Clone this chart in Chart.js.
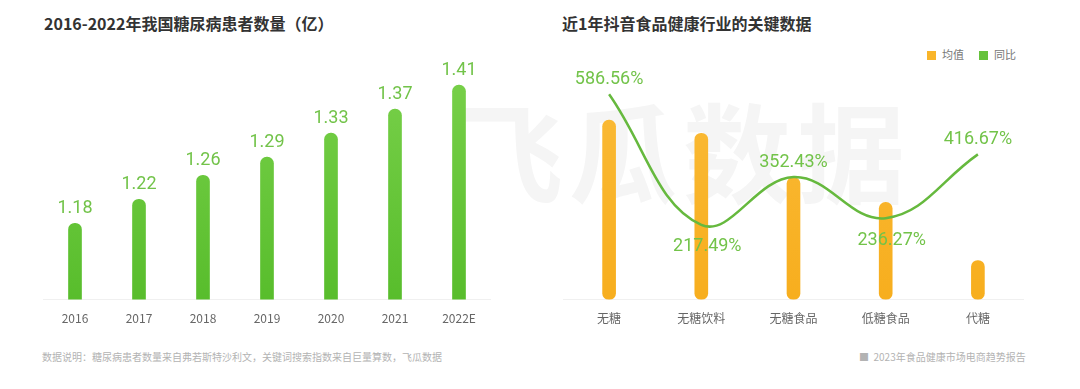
<!DOCTYPE html>
<html>
<head>
<meta charset="utf-8">
<script src="https://cdn.jsdelivr.net/npm/chart.js@4/dist/chart.umd.min.js"></script>
<style>
  body { margin: 0; background: #fff; font-family: 'Noto Sans CJK SC', sans-serif; }
  #wrap { position: relative; width: 1080px; height: 389px; overflow: hidden; }
  .title { position: absolute; top: 11px; font-size: 16px; font-weight: bold; color: #333; }
  .note { position: absolute; top: 349px; font-size: 10px; color: #b3b3b3; }
  .box { position: absolute; top: 40px; height: 298px; }
  .legend { position: absolute; top: 46px; font-size: 11px; color: #777; }
  .legend span.sw { display: inline-block; width: 9px; height: 9px; margin-right: 6px; vertical-align: -1px; }
  .mark { position: absolute; top: 70px; left: 455px; font-size: 108px; font-weight: bold; color: #f5f5f5; letter-spacing: 6px; }
</style>
</head>
<body>
<div id="wrap">
  <div class="mark">飞瓜数据</div>
  <div class="title" style="left:44px">2016-2022年我国糖尿病患者数量（亿）</div>
  <div class="title" style="left:562px">近1年抖音食品健康行业的关键数据</div>
  <div class="legend" style="left:927px"><span class="sw" style="background:#f9b52a"></span>均值</div>
  <div class="legend" style="left:979px"><span class="sw" style="background:#66c23c"></span>同比</div>
  <div class="box" style="left:43px;width:448px"><canvas id="left"></canvas></div>
  <div class="box" style="left:563px;width:461px"><canvas id="right"></canvas></div>
  <div class="note" style="left:42px">数据说明：糖尿病患者数量来自弗若斯特沙利文，关键词搜索指数来自巨量算数，飞瓜数据</div>
  <div class="note" style="left:859px">■&nbsp; 2023年食品健康市场电商趋势报告</div>
</div>
<script>
// 左图：糖尿病患者数量（亿）
const years = ['2016', '2017', '2018', '2019', '2020', '2021', '2022E'];
const patients = [1.18, 1.22, 1.26, 1.29, 1.33, 1.37, 1.41];

// 右图：抖音食品健康行业
const categories = ['无糖', '无糖饮料', '无糖食品', '低糖食品', '代糖'];
const avgValues = [179, 166, 122, 97, 39];   // 均值（图中无数值，按柱高估计）
const yoyValues = [586.56, 217.49, 352.43, 236.27, 416.67]; // 同比 %

const green = '#66c23c';
const labelGreen = '#72c349';
const orange = '#f9b52a';

// 数值标签
const valueLabels = {
  id: 'valueLabels',
  afterDatasetsDraw(chart) {
    const ctx = chart.ctx;
    chart.data.datasets.forEach((ds, i) => {
      if (!ds.showLabels) return;
      const meta = chart.getDatasetMeta(i);
      ctx.save();
      ctx.font = '18px Roboto, "Noto Sans CJK SC", sans-serif';
      ctx.fillStyle = labelGreen;
      ctx.textAlign = 'center';
      meta.data.forEach((el, j) => {
        const text = ds.fmt(ds.data[j]);
        const below = ds.below && ds.below[j];
        if (below) {
          ctx.textBaseline = 'top';
          ctx.fillText(text, el.x + 6, el.y + 13);
        } else {
          ctx.textBaseline = 'bottom';
          ctx.fillText(text, el.x, el.y - 6);
        }
      });
      ctx.restore();
    });
  }
};

function vGradient(ctx, area, top, bottom) {
  const g = ctx.createLinearGradient(0, area.top, 0, area.bottom);
  g.addColorStop(0, top);
  g.addColorStop(1, bottom);
  return g;
}

const xAxis = {
  grid: { display: false, drawTicks: false },
  border: { color: '#f0f0f0' },
  ticks: { color: '#666', padding: 12, font: { size: 12, family: '"Noto Sans CJK SC", sans-serif' } }
};

new Chart(document.getElementById('left'), {
  type: 'bar',
  data: {
    labels: years,
    datasets: [{
      data: patients,
      backgroundColor: (c) => c.chart.chartArea ? vGradient(c.chart.ctx, c.chart.chartArea, '#7dd34e', '#58bd2c') : green,
      barThickness: 13,
      borderRadius: 7,
      borderSkipped: false,
      showLabels: true,
      fmt: (v) => v.toFixed(2)
    }]
  },
  options: {
    responsive: true,
    maintainAspectRatio: false,
    animation: false,
    layout: { padding: 0 },
    scales: {
      x: xAxis,
      y: { display: false, min: 1.053, max: 1.485 }
    },
    plugins: { legend: { display: false }, tooltip: { enabled: false } }
  },
  plugins: [valueLabels]
});

new Chart(document.getElementById('right'), {
  data: {
    labels: categories,
    datasets: [{
      type: 'line',
      label: '同比',
      data: yoyValues,
      yAxisID: 'y2',
      borderColor: '#66b93e',
      borderWidth: 2.5,
      pointRadius: 0,
      tension: 0.4,
      order: 0,
      showLabels: true,
      below: [false, true, false, true, false],
      fmt: (v) => v.toFixed(2) + '%'
    }, {
      type: 'bar',
      label: '均值',
      data: avgValues,
      yAxisID: 'y',
      backgroundColor: (c) => c.chart.chartArea ? vGradient(c.chart.ctx, c.chart.chartArea, '#fbbd3c', '#f7ae1e') : orange,
      barThickness: 13,
      borderRadius: 7,
      borderSkipped: false,
      order: 1
    }]
  },
  options: {
    responsive: true,
    maintainAspectRatio: false,
    animation: false,
    layout: { padding: 0 },
    scales: {
      x: xAxis,
      y: { display: false, min: 0, max: 259 },
      y2: { display: false, min: 6, max: 740 }
    },
    plugins: { legend: { display: false }, tooltip: { enabled: false } }
  },
  plugins: [valueLabels]
});
</script>
</body>
</html>
